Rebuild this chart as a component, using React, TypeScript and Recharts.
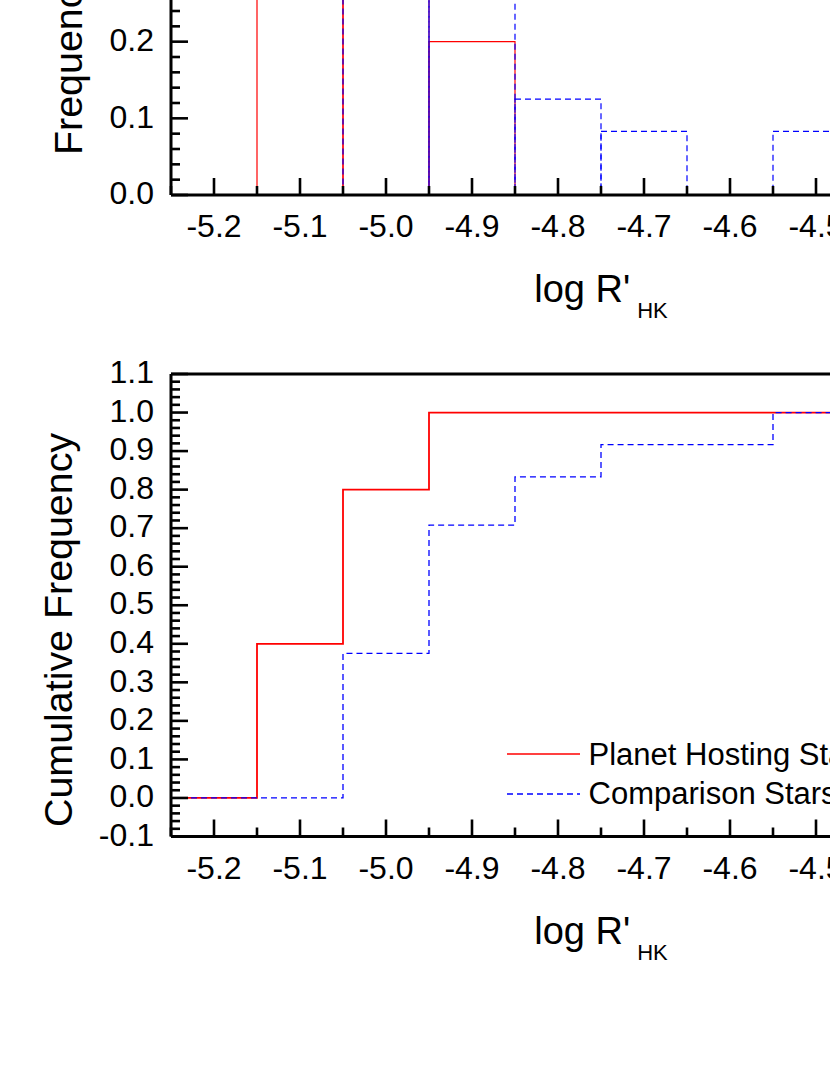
import React from "react";
import { ComposedChart, Line, XAxis, YAxis, ReferenceArea, Legend } from "recharts";

// histogram bins (centre of each 0.1 wide log R'HK bin)
const binCenters = [-5.2, -5.1, -5.0, -4.9, -4.8, -4.7, -4.6, -4.5, -4.4, -4.3];
const hostFreq = [0, 0.4, 0.4, 0.2, 0, 0, 0, 0, 0, 0];
const compFreq = [0, 0, 0.375, 0.333, 0.125, 0.083, 0, 0.083, 0, 0];

// cumulative frequency, sampled at the left edge of every bin
const cumEdges = [-5.25, -5.15, -5.05, -4.95, -4.85, -4.75, -4.65, -4.55, -4.45, -4.35, -4.25];
const hostCum = [0, 0.4, 0.8, 1, 1, 1, 1, 1, 1, 1, 1];
const compCum = [0, 0, 0.375, 0.708, 0.833, 0.917, 0.917, 1, 1, 1, 1];

// labelled ticks
const xMajor = [-5.2, -5.1, -5.0, -4.9, -4.8, -4.7, -4.6, -4.5, -4.4, -4.3];
const freqMajor = [0, 0.1, 0.2, 0.3, 0.4];
const cumMajor = [-0.1, 0, 0.1, 0.2, 0.3, 0.4, 0.5, 0.6, 0.7, 0.8, 0.9, 1.0, 1.1];

const HOST = "Planet Hosting Stars";
const COMP = "Comparison Stars";
const SERIES_ORDER = [HOST, COMP];
const RED = "#ff0000";
const BLUE = "#0000ff";
const DASH = "6 4";
const BIN = 0.1;
const FONT = "'Liberation Sans', Arial, Helvetica, sans-serif";

const X_DOMAIN: [number, number] = [-5.25, -4.25];

const tickList = (lo: number, hi: number, step: number) => {
  const out: number[] = [];
  const n = Math.round((hi - lo) / step);
  for (let i = 0; i <= n; i++) out.push(+(lo + i * step).toFixed(4));
  return out;
};

const xTicks = tickList(-5.25, -4.25, 0.05);
const freqTicks = tickList(0, 0.44, 0.02);
const cumTicks = tickList(-0.1, 1.1, 0.02);

const histRows = binCenters.map((c, i) => ({ x: c, host: hostFreq[i], comp: compFreq[i] }));
const cumRows = cumEdges.map((x, i) => ({ x, host: hostCum[i], comp: compCum[i] }));

type Side = "bottom" | "top" | "left" | "right";

// inward tick marks (long for labelled values, short otherwise)
const makeTick = (side: Side, majors: number[], labelled: boolean) => (p: any) => {
  const { x, y, payload } = p;
  const v = payload.value as number;
  const major = majors.some((m) => Math.abs(m - v) < 1e-6);
  const len = major ? 17 : 9;
  let x2 = x;
  let y2 = y;
  if (side === "bottom") y2 = y - len;
  if (side === "top") y2 = y + len;
  if (side === "left") x2 = x + len;
  if (side === "right") x2 = x - len;
  return (
    <g>
      <line x1={x} y1={y} x2={x2} y2={y2} stroke="#000" strokeWidth={2.6} />
      {labelled && major && side === "bottom" && (
        <text x={x} y={y + 42.3} textAnchor="middle" fontFamily={FONT} fontSize={32} fill="#000">
          {v.toFixed(1)}
        </text>
      )}
      {labelled && major && side === "left" && (
        <text x={x - 17} y={y + 9.2} textAnchor="end" fontFamily={FONT} fontSize={32} fill="#000">
          {v.toFixed(1)}
        </text>
      )}
    </g>
  );
};

const xTitle = (p: any) => {
  const vb = p.viewBox;
  return (
    <text x={vb.x + vb.width / 2} y={vb.y + 107} textAnchor="middle" fontFamily={FONT} fontSize={38} fill="#000">
      log R'
      <tspan fontSize={22} dx={7} dy={16}>HK</tspan>
    </text>
  );
};

const yTitle = (text: string, dx: number, dy: number) => (p: any) => {
  const vb = p.viewBox;
  const ax = vb.x + vb.width - dx;
  const ay = vb.y + vb.height - dy;
  return (
    <text x={ax} y={ay} transform={`rotate(-90 ${ax} ${ay})`} textAnchor="start" fontFamily={FONT} fontSize={39.4} fill="#000">
      {text}
    </text>
  );
};

const axisLine = { stroke: "#000", strokeWidth: 3 };

const LegendBox = (p: any) => {
  const items = [...(p.payload || [])].sort(
    (a: any, b: any) => SERIES_ORDER.indexOf(a.value) - SERIES_ORDER.indexOf(b.value)
  );
  return (
    <svg width={400} height={90} style={{ overflow: "visible" }}>
      {items.map((e: any, i: number) => (
        <g key={e.value}>
          <line
            x1={7}
            x2={80}
            y1={20 + i * 40}
            y2={20 + i * 40}
            stroke={e.color}
            strokeWidth={1.4}
            strokeDasharray={e.value === COMP ? DASH : undefined}
          />
          <text x={88.5} y={31 + i * 39} fontFamily={FONT} fontSize={31} fill="#000">
            {e.value}
          </text>
        </g>
      ))}
    </svg>
  );
};

export default function App() {
  return (
    <div style={{ position: "absolute", left: 0, top: 0, width: 830, height: 1075, overflow: "hidden", background: "#fff" }}>
      {/* frequency histogram */}
      <div style={{ position: "absolute", left: 0, top: -200 }}>
        <ComposedChart width={1100} height={520} data={histRows} margin={{ top: 30, right: 49, bottom: 105, left: 111 }}>
          <XAxis
            dataKey="x"
            type="number"
            domain={X_DOMAIN}
            allowDataOverflow
            ticks={xTicks}
            interval={0}
            tickSize={0}
            tickMargin={0}
            tickLine={false}
            axisLine={axisLine}
            height={20}
            tick={makeTick("bottom", xMajor, true)}
            label={{ content: xTitle }}
          />
          <XAxis
            xAxisId="top"
            orientation="top"
            type="number"
            domain={X_DOMAIN}
            allowDataOverflow
            ticks={xTicks}
            interval={0}
            tickSize={0}
            tickMargin={0}
            tickLine={false}
            axisLine={axisLine}
            height={20}
            tick={makeTick("top", xMajor, false)}
          />
          <YAxis
            type="number"
            domain={[0, 0.45]}
            allowDataOverflow
            ticks={freqTicks}
            interval={0}
            tickSize={0}
            tickMargin={0}
            tickLine={false}
            axisLine={axisLine}
            width={60}
            tick={makeTick("left", freqMajor, true)}
            label={{ content: yTitle("Frequency", 89.3, 40) }}
          />
          <YAxis
            yAxisId="right"
            orientation="right"
            type="number"
            domain={[0, 0.45]}
            allowDataOverflow
            ticks={freqTicks}
            interval={0}
            tickSize={0}
            tickMargin={0}
            tickLine={false}
            axisLine={axisLine}
            width={20}
            tick={makeTick("right", freqMajor, false)}
          />
          {binCenters.map((c, i) =>
            hostFreq[i] > 0 ? (
              <ReferenceArea
                key={`h${i}`}
                x1={c - BIN / 2}
                x2={c + BIN / 2}
                y1={0}
                y2={hostFreq[i]}
                fill="none"
                fillOpacity={0}
                stroke={RED}
                strokeWidth={1.2}
                strokeOpacity={1}
                ifOverflow="hidden"
              />
            ) : null
          )}
          {binCenters.map((c, i) =>
            compFreq[i] > 0 ? (
              <ReferenceArea
                key={`c${i}`}
                x1={c - BIN / 2}
                x2={c + BIN / 2}
                y1={0}
                y2={compFreq[i]}
                fill="none"
                fillOpacity={0}
                stroke={BLUE}
                strokeWidth={1.2}
                strokeOpacity={1}
                strokeDasharray={DASH}
                ifOverflow="hidden"
              />
            ) : null
          )}
        </ComposedChart>
      </div>

      {/* cumulative frequency */}
      <div style={{ position: "absolute", left: 0, top: 320 }}>
        <ComposedChart width={1100} height={660} data={cumRows} margin={{ top: 34, right: 49, bottom: 123.5, left: 111 }}>
          <XAxis
            dataKey="x"
            type="number"
            domain={X_DOMAIN}
            allowDataOverflow
            ticks={xTicks}
            interval={0}
            tickSize={0}
            tickMargin={0}
            tickLine={false}
            axisLine={axisLine}
            height={20}
            tick={makeTick("bottom", xMajor, true)}
            label={{ content: xTitle }}
          />
          <XAxis
            xAxisId="top"
            orientation="top"
            type="number"
            domain={X_DOMAIN}
            allowDataOverflow
            ticks={xTicks}
            interval={0}
            tickSize={0}
            tickMargin={0}
            tickLine={false}
            axisLine={axisLine}
            height={20}
            tick={makeTick("top", xMajor, false)}
          />
          <YAxis
            type="number"
            domain={[-0.1, 1.1]}
            allowDataOverflow
            ticks={cumTicks}
            interval={0}
            tickSize={0}
            tickMargin={0}
            tickLine={false}
            axisLine={axisLine}
            width={60}
            tick={makeTick("left", cumMajor, true)}
            label={{ content: yTitle("Cumulative Frequency", 99.5, 9.5) }}
          />
          <YAxis
            yAxisId="right"
            orientation="right"
            type="number"
            domain={[-0.1, 1.1]}
            allowDataOverflow
            ticks={cumTicks}
            interval={0}
            tickSize={0}
            tickMargin={0}
            tickLine={false}
            axisLine={axisLine}
            width={20}
            tick={makeTick("right", cumMajor, false)}
          />
          <Line
            dataKey="host"
            name={HOST}
            type="stepAfter"
            stroke={RED}
            strokeWidth={1.8}
            dot={false}
            activeDot={false}
            isAnimationActive={false}
          />
          <Line
            dataKey="comp"
            name={COMP}
            type="stepAfter"
            stroke={BLUE}
            strokeWidth={1.3}
            strokeDasharray={DASH}
            dot={false}
            activeDot={false}
            isAnimationActive={false}
          />
          <Legend
            layout="vertical"
            align="center"
            verticalAlign="middle"
            content={LegendBox}
            wrapperStyle={{ left: 500, top: 414, width: 400, height: 90 }}
          />
        </ComposedChart>
      </div>
    </div>
  );
}
